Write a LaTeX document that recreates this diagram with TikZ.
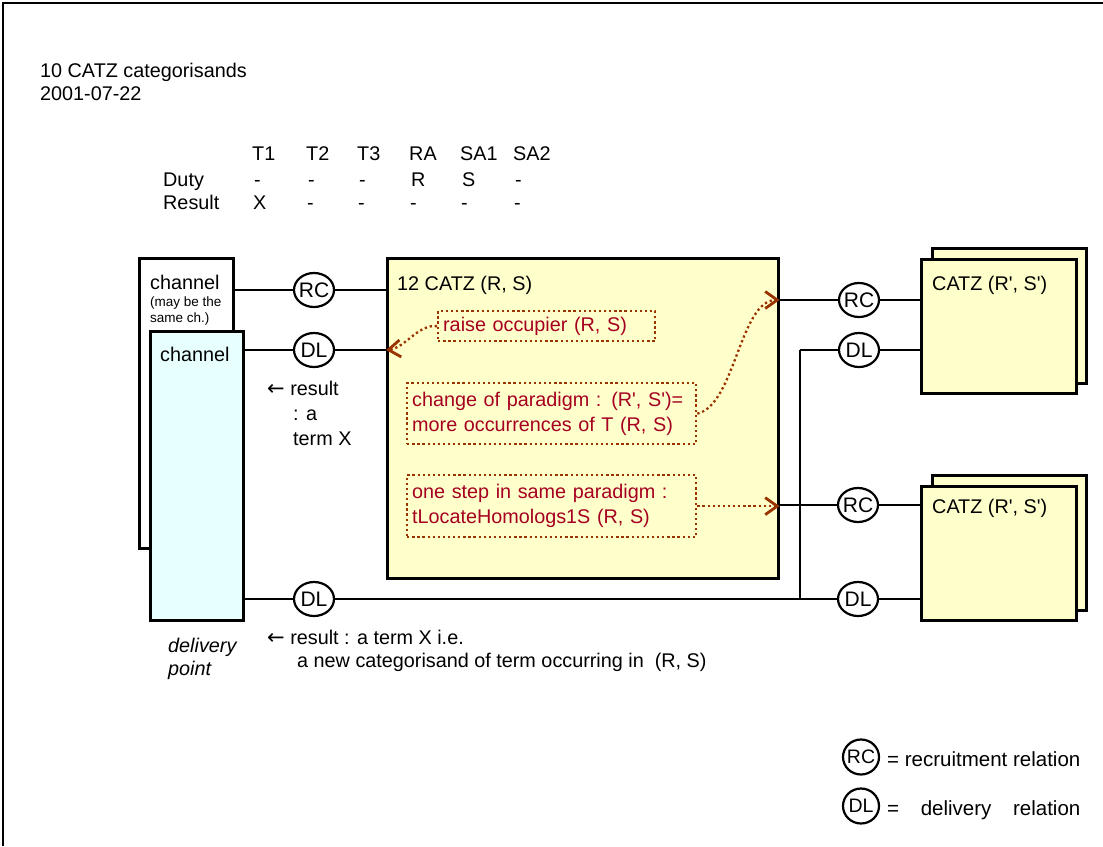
\documentclass[tikz,border=0pt]{standalone}
\usepackage{fontspec}
\setmainfont{Liberation Sans}
\newfontfamily\arrowfont{DejaVu Sans}
\usetikzlibrary{arrows.meta,shapes.geometric,calc}
\definecolor{boxyellow}{HTML}{FFFFCC}
\definecolor{chcyan}{HTML}{E8FFFF}
\definecolor{redtext}{HTML}{A50021}
\definecolor{dotbrown}{HTML}{993300}
\newcommand\mainf{\fontsize{19.8}{25}\selectfont}
\newcommand\circf{\fontsize{21}{25}\selectfont}
\newcommand\lcircf{\fontsize{19.5}{25}\selectfont}
\newcommand\legf{\fontsize{20.5}{25}\selectfont}
\newcommand\smallf{\fontsize{13.5}{16}\selectfont}
\newcommand\larr{{\arrowfont\fontsize{21}{22}\selectfont ←}}
\begin{document}
\begin{tikzpicture}[x=1pt,y=-1pt,
  every node/.style={font=\mainf, inner sep=0pt},
  txt/.style={anchor=base west},
  rel/.style={draw, ellipse, line width=2.2pt, fill=white, minimum width=40pt, minimum height=34pt, inner sep=0pt, font=\circf},
  lrel/.style={draw, ellipse, line width=2.2pt, fill=white, minimum width=36pt, minimum height=35pt, inner sep=0pt, font=\lcircf},
  bx/.style={draw, line width=2.6pt, anchor=north west, inner sep=0pt},
  conn/.style={line width=2.5pt},
  dbox/.style={draw=dotbrown, line width=2.3pt, dash pattern=on 2.3pt off 2.8pt, anchor=north west, text=redtext, align=left, inner xsep=5pt, inner ysep=0pt},
  darr/.style={draw=dotbrown, line width=2.3pt, dash pattern=on 2.3pt off 2.8pt, -{Straight Barb[length=12pt,width=17pt,line width=2.8pt]}},
]
\useasboundingbox (0,0) rectangle (1103,846);
\draw[line width=2.4pt] (3,846) -- (3,3) -- (1103,3);

% title
\node[txt] (title1) at (40,77) {10 CATZ categorisands};
\node[txt] (title2) at (40,100) {2001-07-22};

% table
\node[txt] (duty) at (163,186) {Duty};
\node[txt] (result) at (163,209) {Result};
\foreach \x/\a/\b/\c [count=\i] in {252/T1/-/X, 306/T2/-/-, 357/T3/-/-, 409/RA/R/-, 460/SA1/S/-, 513/SA2/-/-} {
  \node[txt] (tabh\i) at (\x,160) {\a};
  \node[txt] (tabd\i) at (\x+2,186) {\b};
  \node[txt] (tabr\i) at (\x+1,209) {\c};
}

% boxes
\node[bx, fill=white, minimum width=94pt, minimum height=290pt] (chb) at (138,257) {};
\node[bx, fill=chcyan, minimum width=93pt, minimum height=289pt] (chf) at (149,330) {};
\node[bx, fill=boxyellow, minimum width=391pt, minimum height=320pt] (cz) at (386,257) {};
\node[bx, fill=boxyellow, minimum width=154pt, minimum height=135pt] (r1b) at (931,247) {};
\node[bx, fill=boxyellow, minimum width=155pt, minimum height=134pt] (r1f) at (920,258) {};
\node[bx, fill=boxyellow, minimum width=154pt, minimum height=135pt] (r2b) at (931,474) {};
\node[bx, fill=boxyellow, minimum width=155pt, minimum height=134pt] (r2f) at (920,485) {};

% box labels
\node[txt] (chbl) at (150,289) {channel};
\node[txt, font=\smallf] (chbs1) at (150,306) {(may be the};
\node[txt, font=\smallf] (chbs2) at (150,322) {same ch.)};
\node[txt] (chfl) at (160,361) {channel};
\node[txt] (czl) at (397,290) {12 CATZ (R, S)};
\node[txt] (r1l) at (932,290) {CATZ (R\textquotesingle, S\textquotesingle)};
\node[txt] (r2l) at (932,513) {CATZ (R\textquotesingle, S\textquotesingle)};

% relation circles
\node[rel] (rc1) at (314,290) {\makebox[0pt]{RC}};
\node[rel] (dl1) at (314,350) {\makebox[0pt]{DL}};
\node[rel] (dl2) at (314,599) {\makebox[0pt]{DL}};
\node[rel] (rc2) at (859,300) {\makebox[0pt]{RC}};
\node[rel] (dl3) at (859,350) {\makebox[0pt]{DL}};
\node[rel] (rc3) at (858,505) {\makebox[0pt]{RC}};
\node[rel] (dl4) at (858,599) {\makebox[0pt]{DL}};
\coordinate (jn) at (800,350);

% connectors
\draw[conn] (rc1 -| chb.east) -- (rc1) -- (rc1 -| cz.west);
\draw[conn] (dl1 -| chf.east) -- (dl1) -- (dl1 -| cz.west);
\draw[conn] (dl2 -| chf.east) -- (dl2) -- (dl4);
\draw[conn] (dl4) -- ($(dl4 -| r2f.west)+(3,0)$);
\draw[conn] (rc2 -| cz.east) -- (rc2) -- (rc2 -| r1f.west);
\draw[conn] (jn) -- (dl3) -- (dl3 -| r1f.west);
\draw[conn] (jn) -- (jn |- dl4);
\draw[conn] (rc3 -| cz.east) -- (rc3) -- (rc3 -| r2f.west);

% dotted boxes
\node[dbox, text width=207pt, minimum height=30pt] (rs) at (437,310) {raise occupier (R, S)};
\node[dbox, text width=279pt, minimum height=61pt] (cp) at (406,382) {change of paradigm : (R\textquotesingle, S\textquotesingle)=\\more occurrences of T (R, S)};
\node[dbox, text width=279pt, minimum height=62pt] (os) at (406,474) {one step in same paradigm :\\tLocateHomologs1S (R, S)};

\draw[darr] (rs.west) .. controls (418,324) and (405,348) .. (dl1 -| cz.west);
\draw[darr] (cp.east) .. controls (735,405) and (740,300) .. (rc2 -| cz.east);
\draw[darr] (os.east) -- (os.east -| cz.east);

% result texts
\node[txt] (res1) at (267,395) {\larr\ result};
\node[txt] (res2) at (293,420) {: a};
\node[txt] (res3) at (293,445) {term X};
\node[txt] (res4) at (267,644) {\larr\ result : a term X i.e.};
\node[txt] (res5) at (297,667) {a new categorisand of term occurring in \ (R, S)};
\node[txt, font=\mainf\itshape] (dp1) at (168,652) {delivery};
\node[txt, font=\mainf\itshape] (dp2) at (168,675) {point};

% legend
\node[lrel] (lrc) at (861,757) {\makebox[0pt]{RC}};
\node[lrel] (ldl) at (861,806) {\makebox[0pt]{DL}};
\node[txt, font=\legf] (lrct) at (887,766) {= recruitment relation};
\node[txt, font=\legf] (ldlt) at (887,815) {\setbox0\hbox{= recruitment relation}\hbox to\wd0{=\hfill delivery\hfill relation}};
\end{tikzpicture}
\end{document}
